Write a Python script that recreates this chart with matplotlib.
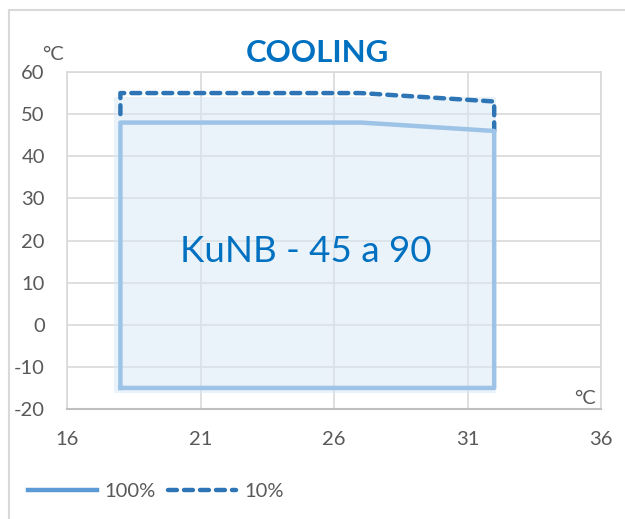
import matplotlib
matplotlib.use("Agg")
import matplotlib.pyplot as plt
from matplotlib.lines import Line2D
from matplotlib.patches import Rectangle

# envelope at 100% load (outdoor temp, water temp)
x_100 = [18, 18, 27, 32, 32, 18]
y_100 = [-15, 48, 48, 46, -15, -15]
# envelope at 10% load
x_10 = [18, 18, 27, 32, 32]
y_10 = [50, 55, 55, 53, 46]
# shaded operating area
area_x = [17.75, 32.05]
area_top = 54
area_bottom = -16.3

x_ticks = [16, 21, 26, 31, 36]
y_ticks = [-20, -10, 0, 10, 20, 30, 40, 50, 60]

plt.rcParams['font.family'] = ['Lato', 'DejaVu Sans']
plt.rcParams['axes.unicode_minus'] = False
GRAY = "#595959"
BLUE = "#0070C0"
DASH = (0, (2.0, 1.6))

fig = plt.figure(figsize=(6.25, 5.19), dpi=100)
ax = fig.add_axes([67/625, 1-409/519, (601-67)/625, (409-72)/519])

ax.fill_between(area_x, area_bottom, area_top, color="#DAE8F6", alpha=0.55,
                lw=0, zorder=2)
ax.plot(x_10, y_10, color="#2E75B6", lw=3.2, ls=DASH,
        dash_capstyle="round", zorder=3)
ax.plot(x_100, y_100, color="#9DC3E6", lw=3.2, zorder=4)

ax.set_xlim(16, 36)
ax.set_ylim(-20, 60)
ax.set_xticks(x_ticks)
ax.set_yticks(y_ticks)
ax.grid(True, color="#D9D9D9", lw=1.2, zorder=1)
ax.set_axisbelow(True)
ax.tick_params(length=0, labelsize=14.5, colors=GRAY, pad=16)
for s in ["left", "right", "top"]:
    ax.spines[s].set_color("#D9D9D9")
    ax.spines[s].set_linewidth(1.2)
ax.spines["bottom"].set_color("#BFBFBF")
ax.spines["bottom"].set_linewidth(1.5)

ax.text(24.95, 17.4, "KuNB - 45 a 90", color=BLUE, fontsize=26.5,
        ha="center", va="center", zorder=5)

fig.text(317/625, 1-53/519, "COOLING", color=BLUE, fontsize=22.5,
         fontweight="bold", ha="center", va="center")
fig.text(53/625, 1-55/519, "°C", color=GRAY, fontsize=14.5, ha="center", va="center")
fig.text(585/625, 1-398/519, "°C", color=GRAY, fontsize=14.5, ha="center", va="center")

# outer chart frame
fig.patches.append(Rectangle((8.5/625, -0.1), 1.2, 1 - 10/519 + 0.1,
                             transform=fig.transFigure, fill=False,
                             ec="#D9D9D9", lw=1.5))

handles = [Line2D([], [], color="#5B9BD5", lw=3.2),
           Line2D([], [], color="#2E75B6", lw=3.2, ls=DASH,
                  dash_capstyle="round")]
fig.legend(handles, ["100%", "10%"], loc="center left",
           bbox_to_anchor=(10/625, 1-491/519), ncol=2, frameon=False,
           fontsize=14.5, labelcolor=GRAY, handlelength=3.4, handletextpad=0.4,
           columnspacing=0.6)

fig.savefig("out.png", dpi=100)
